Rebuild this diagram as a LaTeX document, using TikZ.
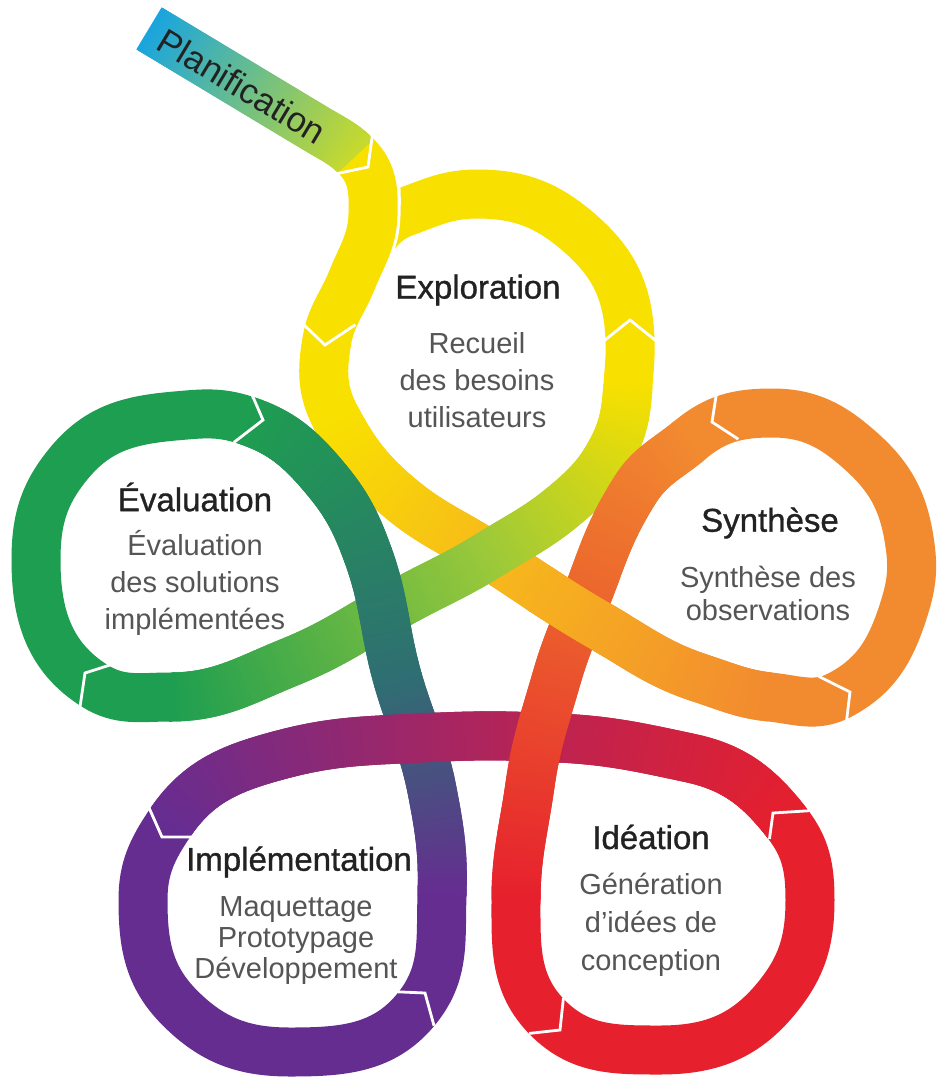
\documentclass[tikz,border=0pt]{standalone}
\usepackage{fontspec}
\setmainfont{Liberation Sans}
\newfontfamily\headfont[FakeBold=1]{Liberation Sans}
\usetikzlibrary{decorations.markings}

\definecolor{cyel}{HTML}{F8E000}
\definecolor{cgold}{HTML}{F7BA1B}
\definecolor{corange}{HTML}{F28A30}
\definecolor{cvermil}{HTML}{EC6A2D}
\definecolor{cred}{HTML}{E6202D}
\definecolor{ccrimson}{HTML}{BE2350}
\definecolor{cpurple}{HTML}{662D91}
\definecolor{cslate}{HTML}{2F6E72}
\definecolor{cgreen}{HTML}{1E9E50}
\definecolor{clime}{HTML}{9CC93A}
\definecolor{ccyan}{HTML}{1AA5DE}
\definecolor{cplan}{HTML}{C8DA2C}
\definecolor{titlegray}{HTML}{222222}
\definecolor{bodygray}{HTML}{555555}

\tikzset{
  band/.style={line width=24.5pt, line cap=butt},
  gband/.style 2 args={decorate, decoration={markings,
    mark=between positions 0 and 1 step 0.5pt with {
      \pgfmathtruncatemacro\gmix{100*(\pgfkeysvalueof{/pgf/decoration/mark info/distance from start}/\pgfdecoratedpathlength)}
      \draw[band, #2!\gmix!#1] (-0.6pt,0) -- (0.6pt,0);
    }}},
  chev/.style={white, line width=1.4pt, line join=miter, shorten <=-2pt, shorten >=-2pt},
  phase/.style={font=\headfont\fontsize{16.5}{19}\selectfont, text=titlegray},
  detail/.style={font=\fontsize{14.5}{#1}\selectfont, text=bodygray, align=center},
  detail/.default=18.5,
  plan/.style={font=\fontsize{17.5}{20}\selectfont, text=titlegray, rotate=-31}
}

\begin{document}
\begin{tikzpicture}[x=0.5pt,y=0.5pt]
    \useasboundingbox (0,0) rectangle (939,-1083);
    \fill[white] (0,0) rectangle (939,-1083);

    % Points of the ribbon
    \coordinate (s0) at (150,-29);
    \coordinate (s1) at (318,-130);
    \coordinate (c1) at (356,-156);
    \coordinate (k1) at (373,-215);
    \coordinate (k2) at (352,-280);
    \coordinate (k3) at (327,-340);
    \coordinate (k4) at (336,-418);
    \coordinate (j1) at (400,-498);
    \coordinate (mid) at (489,-555);
    \coordinate (j3) at (600,-626);
    \coordinate (j4) at (700,-678);
    \coordinate (j5) at (770,-697);
    \coordinate (o1) at (840,-695);
    \coordinate (o2) at (903,-612);
    \coordinate (o3) at (910,-545);
    \coordinate (o4) at (862,-452);
    \coordinate (o5) at (772,-413);
    \coordinate (o6) at (690,-440);
    \coordinate (h1) at (635,-490);
    \coordinate (h2) at (595,-575);
    \coordinate (h3) at (556,-680);
    \coordinate (h4) at (530,-785);
    \coordinate (r0) at (516,-900);
    \coordinate (r1) at (548,-1018);
    \coordinate (r2) at (660,-1050);
    \coordinate (r3) at (775,-1000);
    \coordinate (r4) at (810,-900);
    \coordinate (r5) at (787,-823);
    \coordinate (r6) at (690,-758);
    \coordinate (f1) at (560,-738);
    \coordinate (f2) at (420,-738);
    \coordinate (f3) at (280,-755);
    \coordinate (u1) at (170,-823);
    \coordinate (u2) at (143,-900);
    \coordinate (u3) at (180,-1008);
    \coordinate (u4) at (290,-1052);
    \coordinate (u5) at (418,-1007);
    \coordinate (u6) at (442,-895);
    \coordinate (d1) at (432,-790);
    \coordinate (d2) at (398,-680);
    \coordinate (d3) at (368,-555);
    \coordinate (d4) at (325,-478);
    \coordinate (d5) at (245,-420);
    \coordinate (g0) at (175,-416);
    \coordinate (g1) at (70,-462);
    \coordinate (g2) at (36,-560);
    \coordinate (g3) at (95,-686);
    \coordinate (g4) at (170,-697);
    \coordinate (b1) at (290,-662);
    \coordinate (b2) at (400,-603);
    \coordinate (b3) at (565,-505);
    \coordinate (b4) at (612,-450);
    \coordinate (y0) at (628,-385);
    \coordinate (y1) at (630,-340);
    \coordinate (y2) at (583,-236);
    \coordinate (y3) at (477,-194);
    \coordinate (y4) at (405,-212);
    \coordinate (y5) at (357,-268);

    % Exploration loop, top arc
    \draw[band, cyel] (y0) to[out=86,in=272] (y1) to[out=92,in=318] (y2)
        to[out=138,in=0] (y3) to[out=180,in=20] (y4) to[out=200,in=65] (y5);
    % Planification
    \path[gband={ccyan}{cplan}] (s0) to[out=-31,in=149] (s1) to[out=-31,in=135] (c1);
    \draw[white, line width=27.5pt, shorten <=8pt]
        (c1) to[out=-45,in=88] (k1) to[out=-92,in=68] (k2) to[out=-112,in=80] (k3);
    \draw[band, cyel]
        (c1) to[out=-45,in=88] (k1) to[out=-92,in=68] (k2)
        to[out=-112,in=80] (k3) to[out=-100,in=118] (k4);

    % Loops
    \draw[band, corange] (j5) to[out=-6,in=208] (o1) to[out=28,in=252] (o2)
        to[out=72,in=278] (o3) to[out=98,in=318] (o4) to[out=138,in=0] (o5)
        to[out=180,in=40] (o6);
    \draw[band, cred] (r0) to[out=-90,in=135] (r1) to[out=-45,in=180] (r2)
        to[out=0,in=230] (r3) to[out=50,in=270] (r4) to[out=90,in=308] (r5);
    \draw[band, cpurple] (u1) to[out=236,in=90] (u2) to[out=-90,in=135] (u3)
        to[out=-45,in=180] (u4) to[out=0,in=232] (u5) to[out=52,in=268] (u6);
    \draw[band, cgreen] (d5) to[out=162,in=5] (g0) to[out=185,in=50] (g1)
        to[out=230,in=90] (g2) to[out=-90,in=148] (g3) to[out=-32,in=180] (g4);

    % Crossing legs
    \path[gband={cyel}{cgold}] (k4) to[out=-62,in=140] (j1) to[out=-40,in=147] (mid);
    \path[gband={cgold}{corange}] (mid) to[out=-33,in=150] (j3) to[out=-30,in=162] (j4)
        to[out=-18,in=174] (j5);
    \path[gband={cgreen}{clime}] (g4) to[out=0,in=202] (b1) to[out=22,in=209] (b2)
        to[out=29,in=212] (mid);
    \path[gband={clime}{cyel}] (mid) to[out=32,in=220] (b3) to[out=40,in=242] (b4)
        to[out=62,in=266] (y0);
    \path[gband={cpurple}{cslate}] (u6) to[out=88,in=281] (d1) to[out=101,in=286] (d2);
    \path[gband={cslate}{cgreen}] (d2) to[out=106,in=290] (d3) to[out=110,in=310] (d4)
        to[out=130,in=342] (d5);
    \path[gband={cred}{ccrimson}] (r5) to[out=128,in=-12] (r6) to[out=168,in=-3] (f1);
    \path[gband={ccrimson}{cpurple}] (f1) to[out=177,in=3] (f2) to[out=183,in=15] (f3)
        to[out=195,in=56] (u1);
    \path[gband={corange}{cvermil}] (o6) to[out=220,in=58] (h1) to[out=238,in=70] (h2);
    \path[gband={cvermil}{cred}] (h2) to[out=250,in=74] (h3) to[out=254,in=82] (h4)
        to[out=262,in=90] (r0);
    \begin{scope}
        \clip (578,-612) circle (52);
        \path[gband={cgold}{corange}] (mid) to[out=-33,in=150] (j3) to[out=-30,in=162] (j4)
            to[out=-18,in=174] (j5);
    \end{scope}

    % Chevrons
    \draw[chev] (372,-138) -- (368,-167) -- (340,-173);
    \draw[chev] (302,-323) -- (325,-345) -- (352,-327);
    \draw[chev] (605,-340) -- (630,-320) -- (655,-340);
    \draw[chev] (253,-397) -- (263,-420) -- (237,-440);
    \draw[chev] (110,-665) -- (85,-673) -- (80,-707);
    \draw[chev] (717,-390) -- (712,-422) -- (735,-437);
    \draw[chev] (822,-678) -- (850,-692) -- (847,-717);
    \draw[chev] (150,-810) -- (162,-837) -- (190,-837);
    \draw[chev] (402,-992) -- (425,-993) -- (433,-1022);
    \draw[chev] (770,-835) -- (773,-813) -- (805,-811);
    \draw[chev] (563,-1002) -- (560,-1030) -- (533,-1033);

    % Labels
    \node[plan] (planif) at (242,-86) {Planification};
    \node[phase] (explo) at (478,-290) {Exploration};
    \node[detail] (explotxt) at (477,-380) {Recueil\\des besoins\\utilisateurs};
    \node[phase] (synth) at (770,-523) {Synthèse};
    \node[detail=16.5] (synthtxt) at (768,-593) {Synthèse des\\observations};
    \node[phase] (idea) at (651,-837) {Idéation};
    \node[detail=19] (ideatxt) at (651,-925) {Génération\\d'idées de\\conception};
    \node[phase] (impl) at (299,-862) {Implémentation};
    \node[detail=15.5] (impltxt) at (296,-941) {Maquettage\\Prototypage\\Développement};
    \node[phase] (evalu) at (195,-497) {Évaluation};
    \node[detail] (evalutxt) at (195,-583) {Évaluation\\des solutions\\implémentées};
\end{tikzpicture}
\end{document}
